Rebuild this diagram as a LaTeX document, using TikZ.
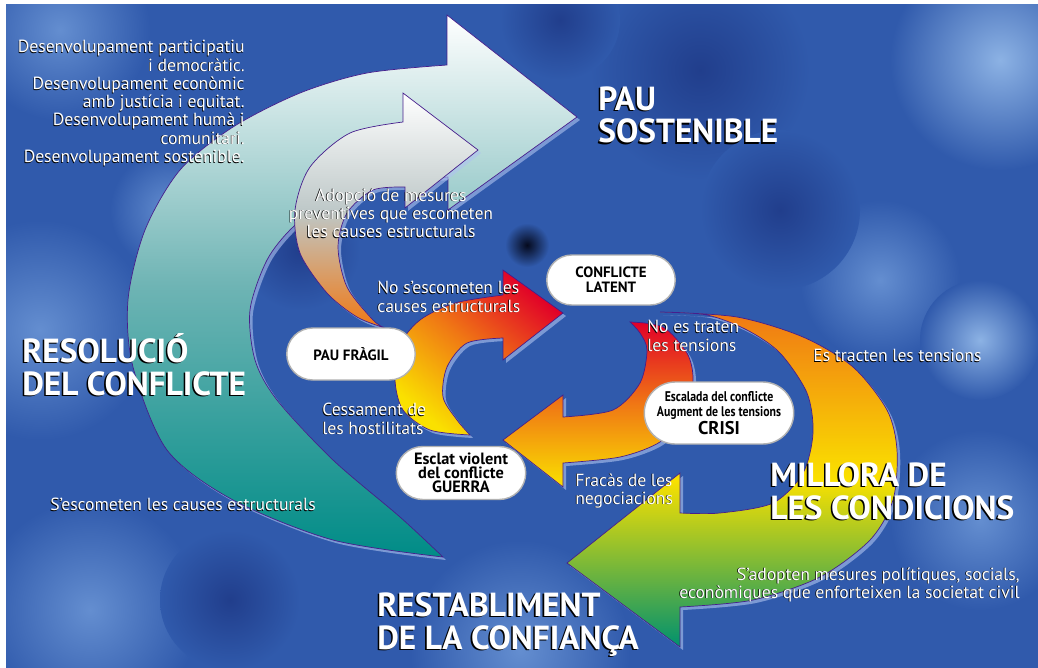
\documentclass[tikz,border=0pt]{standalone}
\usepackage{fontspec}
\setmainfont{PT Sans}
\newfontfamily\narrowfont{PT Sans}[FakeStretch=0.84]
\usetikzlibrary{shapes.misc}
\definecolor{bgblue}{RGB}{48,90,172}
\definecolor{bglight}{RGB}{100,142,208}
\definecolor{bgpale}{RGB}{140,178,228}
\definecolor{bgdark}{RGB}{33,62,140}
\definecolor{bgdeep}{RGB}{5,10,30}
\definecolor{edgeviolet}{RGB}{70,30,140}
\definecolor{haloblue}{RGB}{175,195,240}
\definecolor{peaceteal}{RGB}{0,140,135}
\definecolor{tealmid}{RGB}{110,180,180}
\definecolor{prevmid}{RGB}{190,200,200}
\definecolor{firered}{RGB}{225,0,40}
\definecolor{fireorange}{RGB}{240,120,20}
\definecolor{fireyellow}{RGB}{250,225,0}
\definecolor{hopeteal}{RGB}{0,145,110}
\newcommand\sh[2][0.4pt]{\leavevmode\rlap{\kern-#1\raisebox{-#1}{\color{black}#2}}#2}
\begin{document}
\begin{tikzpicture}[x=0.02cm,y=-0.02cm,
  flow/.style={draw=edgeviolet,line width=0.4pt,preaction={fill=haloblue,opacity=0.6,transform canvas={shift={(3,3)}}}},
  stage/.style={rounded rectangle,draw=gray!60,line width=0.8pt,fill=white,align=center,inner sep=1pt,font=\bfseries\fontsize{8.5}{8.6}\selectfont},
  note/.style={text=white,inner sep=0pt,font=\fontsize{10}{10.4}\selectfont},
  title/.style={text=white,inner sep=0pt,align=left,font=\bfseries\fontsize{19}{18.7}\selectfont}]
	\useasboundingbox (0,0) rectangle (1038,667);
	\fill[white] (-10,-10) rectangle (1050,680);
	\begin{scope}
		\clip (6,4) rectangle (1050,680);
		\fill[bgblue] (6,4) rectangle (1050,680);
		\foreach \x/\y/\r/\c in {1000/60/110/bgpale,880/280/80/bglight,980/340/60/bgpale,60/30/90/bglight,40/330/110/bglight,170/210/60/bglight,90/610/110/bglight,520/650/110/bglight,980/520/90/bglight,700/70/110/bgdark,780/210/80/bgdark,560/20/60/bgdark,300/250/60/bgdark,230/600/70/bgdark,527/245/22/bgdeep}{
			\shade[inner color=\c,outer color=bgblue] (\x,\y) circle (\r);
		}
	\end{scope}
	% arrows
	\path[flow,top color=white,bottom color=peaceteal,middle color=tealmid]
		plot[smooth] coordinates {(443,557) (333,540) (233,500) (167,450) (133,367) (128,300) (145,230) (180,170) (233,127) (300,93) (367,73) (447,65)}
		-- (447,15) -- (577,117) -- (448,210) -- (448,177)
		-- plot[smooth] coordinates {(448,177) (390,183) (330,200) (293,227) (267,260) (250,310) (255,360) (277,400) (333,460) (400,517) (443,557)} -- cycle;
	\path[flow,top color=white,bottom color=fireorange,middle color=prevmid]
		plot[smooth] coordinates {(385,328) (357,317) (327,293) (300,253) (295,210) (310,167) (350,133) (403,122)}
		-- (403,93) -- (478,150) -- (405,208) -- (405,187)
		-- plot[smooth] coordinates {(405,187) (373,190) (347,213) (338,247) (347,287) (373,320) (385,328)} -- cycle;
	\path[flow,top color=firered,bottom color=fireyellow,middle color=fireorange,shading angle=-40]
		plot[smooth] coordinates {(470,435) (430,430) (403,410) (395,380) (400,345) (420,320) (455,303) (503,295)}
		-- (503,270) -- (563,313) -- (503,360) -- (503,338)
		-- plot[smooth] coordinates {(503,338) (467,343) (447,367) (443,397) (457,420) (470,435)} -- cycle;
	\path[flow,top color=fireorange,bottom color=hopeteal,middle color=fireyellow]
		plot[smooth] coordinates {(660,312) (737,317) (803,337) (853,367) (887,410) (897,450) (893,500) (870,540) (820,577) (753,600) (680,607)}
		-- (680,647) -- (567,563) -- (680,473) -- (680,513)
		-- plot[smooth] coordinates {(680,513) (720,513) (773,503) (803,473) (813,433) (807,393) (780,353) (747,330) (707,315) (660,312)} -- cycle;
	\path[flow,top color=firered,bottom color=fireyellow,middle color=fireorange]
		plot[smooth] coordinates {(630,322) (663,327) (687,353) (693,380) (685,415) (660,442) (620,457) (563,463)}
		-- (563,487) -- (503,440) -- (563,395) -- (563,417)
		-- plot[smooth] coordinates {(563,417) (613,410) (640,383) (647,350) (640,333) (630,322)} -- cycle;
	% stages
	\node[stage,minimum width=2.64cm,minimum height=1cm] (latent) at (611,280) {CONFLICTE\\LATENT};
	\node[stage,minimum width=2.64cm,minimum height=1.04cm] (fragil) at (351,354) {PAU FRÀGIL};
	\node[stage,minimum width=3.06cm,minimum height=1.24cm] (crisi) at (719,413) {{\narrowfont\fontsize{8}{8}\selectfont Escalada del conflicte}\\{\narrowfont\fontsize{8}{8}\selectfont Augment de les tensions}\\{\fontsize{10.5}{10.5}\selectfont CRISI}};
	\node[stage,minimum width=2.66cm,minimum height=1.06cm,font=\bfseries\fontsize{9.3}{8}\selectfont] (guerra) at (461,473) {Esclat violent\\del conflicte\\GUERRA};
	% labels
	\node[note,anchor=north east,align=right] (devlist) at (245,40) {\sh{Desenvolupament participatiu}\\\sh{i democràtic.}\\\sh{Desenvolupament econòmic}\\\sh{amb justícia i equitat.}\\\sh{Desenvolupament humà i}\\\sh{comunitari.}\\\sh{Desenvolupament sostenible.}};
	\node[note,anchor=north,align=center] (prevent) at (391,188) {\sh{Adopció de mesures}\\\sh{preventives que escometen}\\\sh{les causes estructurals}};
	\node[note,anchor=north west,align=left] (noroot) at (377,281) {\sh{No s’escometen les}\\\sh{causes estructurals}};
	\node[note,anchor=north west,align=left] (notreat) at (647,320) {\sh{No es traten}\\\sh{les tensions}};
	\node[note,anchor=west] (treat) at (813,356) {\sh{Es tracten les tensions}};
	\node[note,anchor=north west,align=left] (ceasefire) at (322,403) {\sh{Cessament de}\\\sh{les hostilitats}};
	\node[note,anchor=north west,align=left] (failure) at (575,473) {\sh{Fracàs de les}\\\sh{negociacions}};
	\node[note,anchor=west] (rootcause) at (50,505) {\sh{S’escometen les causes estructurals}};
	\node[note,anchor=north east,align=right] (measures) at (1020,567) {\sh{S’adopten mesures polítiques, socials,}\\\sh{econòmiques que enforteixen la societat civil}};
	\node[title,anchor=north west] (peace) at (598,86) {\sh[0.9pt]{PAU}\\\sh[0.9pt]{SOSTENIBLE}};
	\node[title,anchor=north west] (resolve) at (22,333) {\sh[0.9pt]{RESOLUCIÓ}\\\sh[0.9pt]{DEL CONFLICTE}};
	\node[title,anchor=north west] (improve) at (770,462) {\sh[0.9pt]{MILLORA DE}\\\sh[0.9pt]{LES CONDICIONS}};
	\node[title,anchor=north west] (trust) at (377,592) {\sh[0.9pt]{RESTABLIMENT}\\\sh[0.9pt]{DE LA CONFIANÇA}};
\end{tikzpicture}
\end{document}
